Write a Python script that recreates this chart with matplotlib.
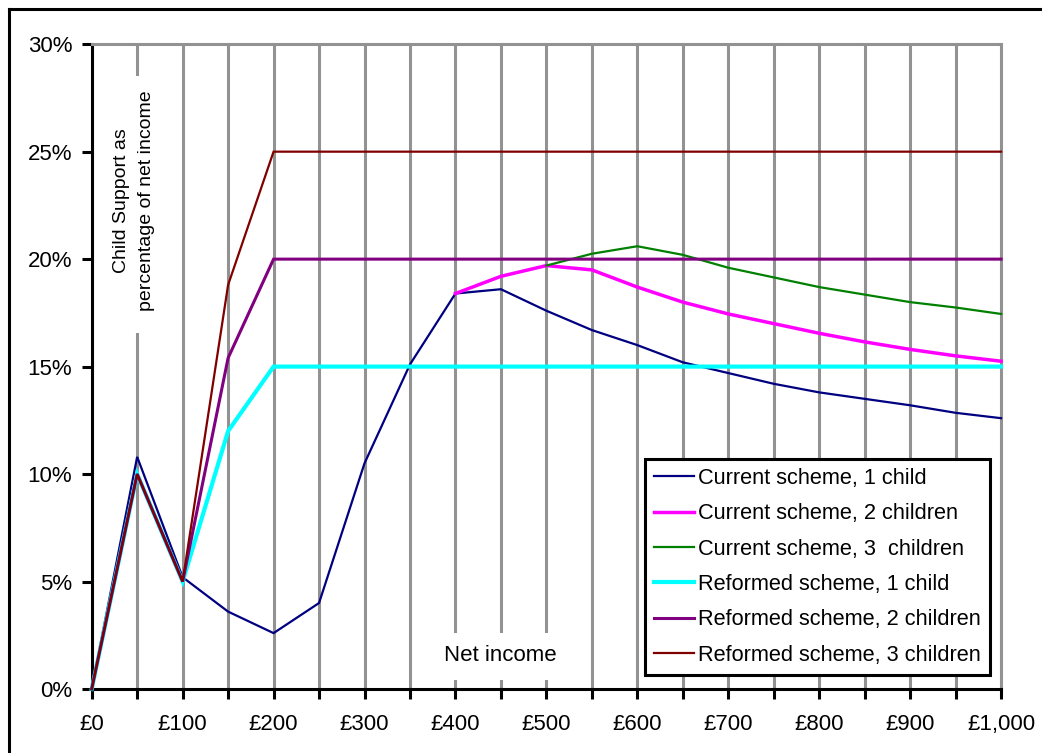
import matplotlib
matplotlib.use("Agg")
import matplotlib.pyplot as plt
from matplotlib.ticker import MultipleLocator, FuncFormatter
from matplotlib.patches import Rectangle
from matplotlib.lines import Line2D
import numpy as np

plt.rcParams['font.family'] = ['Liberation Sans', 'DejaVu Sans']

# Net weekly income (£)
income = [0, 50, 100, 150, 200, 250, 300, 350, 400, 450, 500,
          550, 600, 650, 700, 750, 800, 850, 900, 950, 1000]

# Child support as % of net income
current_1 = [0, 10.8, 5.2, 3.6, 2.6, 4.0, 10.5, 15.1, 18.4, 18.6, 17.6,
             16.7, 16.0, 15.2, 14.7, 14.2, 13.8, 13.5, 13.2, 12.85, 12.6]
current_2 = [None, None, None, None, None, None, None, None, 18.4, 19.2, 19.7,
             19.5, 18.7, 18.0, 17.45, 17.0, 16.55, 16.15, 15.8, 15.5, 15.25]
current_3 = [None, None, None, None, None, None, None, None, None, None, 19.7,
             20.25, 20.6, 20.2, 19.6, 19.15, 18.7, 18.35, 18.0, 17.75, 17.45]
reformed_1 = [0, 10.0, 5.0, 12.0, 15.0, 15, 15, 15, 15, 15, 15,
              15, 15, 15, 15, 15, 15, 15, 15, 15, 15]
reformed_2 = [0, 10.0, 5.0, 15.4, 20.0, 20, 20, 20, 20, 20, 20,
              20, 20, 20, 20, 20, 20, 20, 20, 20, 20]
reformed_3 = [0, 10.0, 5.0, 18.8, 25.0, 25, 25, 25, 25, 25, 25,
              25, 25, 25, 25, 25, 25, 25, 25, 25, 25]

series_labels = ["Current scheme, 1 child", "Current scheme, 2 children",
                 "Current scheme, 3  children", "Reformed scheme, 1 child",
                 "Reformed scheme, 2 children", "Reformed scheme, 3 children"]
series_values = [current_1, current_2, current_3, reformed_1, reformed_2, reformed_3]
colors = ["#000080", "#FF00FF", "#008000", "#00FFFF", "#800080", "#800000"]
widths = [1.6, 2.5, 1.6, 3.0, 2.2, 1.6]

y_ticks = [0, 5, 10, 15, 20, 25, 30]

fig = plt.figure(figsize=(10.42, 7.53), dpi=100)
ax = fig.add_axes([0.088, 0.085, 0.8727, 0.8563])

for vals, lab, c, w in zip(series_values, series_labels, colors, widths):
    y = np.array([np.nan if v is None else v for v in vals], dtype=float)
    ax.plot(income, y, color=c, lw=w, label=lab, zorder=3, clip_on=False,
            solid_joinstyle='miter')

ax.set_xlim(0, 1000)
ax.set_ylim(0, 30)
ax.xaxis.set_major_locator(MultipleLocator(50))
ax.xaxis.set_major_formatter(FuncFormatter(
    lambda v, p: ("£{:,.0f}".format(v) if round(v) % 100 == 0 else "")))
ax.set_yticks(y_ticks)
ax.set_yticklabels([f"{t}%" for t in y_ticks])

ax.set_axisbelow(True)
ax.grid(axis='x', color='#929292', lw=2.2)
ax.grid(axis='y', visible=False)

for s in ['left', 'bottom']:
    ax.spines[s].set_color('black')
    ax.spines[s].set_linewidth(2.2)
for s in ['top', 'right']:
    ax.spines[s].set_color('#929292')
    ax.spines[s].set_linewidth(2.2)

ax.tick_params(axis='both', direction='out', length=7, width=2.2,
               colors='black', labelsize=16)
ax.tick_params(axis='x', pad=11)
ax.tick_params(axis='y', pad=7)

# Y-axis title block inside the plot area
ax.add_patch(Rectangle((0.0135, 0.552), 0.0638, 0.399, transform=ax.transAxes,
                       facecolor='white', edgecolor='none', zorder=1.5))
ax.text(0.0465, 0.758, "Child Support as\npercentage of net income",
        transform=ax.transAxes, rotation=90, ha='center', va='center',
        fontsize=14, linespacing=1.55, zorder=2)

# X-axis title block
ax.add_patch(Rectangle((0.372, 0.014), 0.145, 0.073, transform=ax.transAxes,
                       facecolor='white', edgecolor='none', zorder=1.5))
ax.text(0.449, 0.0527, "Net income", transform=ax.transAxes,
        ha='center', va='center', fontsize=16, zorder=2)

leg = ax.legend(loc='lower right', bbox_to_anchor=(0.988, 0.0217),
                fontsize=15.7, frameon=True, fancybox=False, framealpha=1,
                edgecolor='black', handlelength=1.83, handletextpad=0.18,
                labelspacing=0.66, borderpad=0.42, borderaxespad=0)
leg.get_frame().set_linewidth(2.2)
leg.set_zorder(5)

# Outer chart frame (left and top edges visible)
fig.add_artist(Line2D([0.0091, 0.0091], [0, 0.9887], transform=fig.transFigure,
                      color='black', lw=2.2))
fig.add_artist(Line2D([0.0091, 1.0], [0.9887, 0.9887], transform=fig.transFigure,
                      color='black', lw=2.2))

fig.savefig("out.png", dpi=100)
